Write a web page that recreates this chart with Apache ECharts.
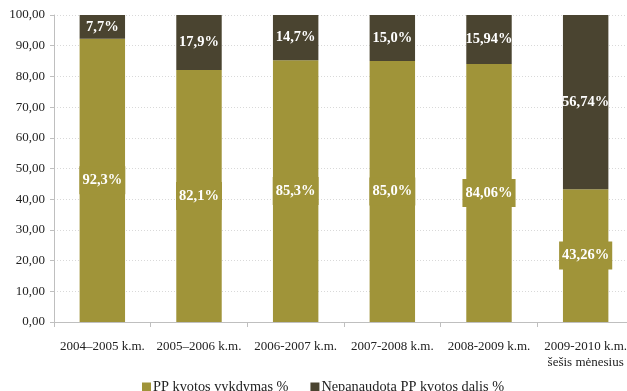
<!DOCTYPE html>
<html>
<head>
<meta charset="utf-8">
<script src="https://cdn.jsdelivr.net/npm/echarts@6/dist/echarts.min.js"></script>
<style>
  html, body { margin: 0; padding: 0; background: #fff; }
  #chart { width: 627px; height: 391px; }
</style>
</head>
<body>
<div id="chart"></div>
<script>
// School years (the last one covers only six months)
const categories = ['2004–2005 k.m.', '2005–2006 k.m.', '2006-2007 k.m.', '2007-2008 k.m.', '2008-2009 k.m.', '2009-2010 k.m.\nšešis mėnesius'];
// Quota fulfilment, %
const fulfilled = [92.3, 82.1, 85.3, 85.0, 84.06, 43.26];
// Unused quota share, %
const unused = [7.7, 17.9, 14.7, 15.0, 15.94, 56.74];
// Decimal places shown in each category's labels
const decimals = [1, 1, 1, 1, 2, 2];
const seriesNames = ['PP kvotos vykdymas %', 'Nepanaudota PP kvotos dalis %'];
const yTicks = [0, 10, 20, 30, 40, 50, 60, 70, 80, 90, 100];

const GREEN = '#A09439';
const DARK = '#4A4430';
const FONT = '"Liberation Serif", "Times New Roman", serif';

const fmt = (v, d) => v.toFixed(d).replace('.', ',');

const chart = echarts.init(document.getElementById('chart'));
chart.setOption({
  animation: false,
  textStyle: { fontFamily: FONT },
  grid: { left: 54, top: 15, width: 580, height: 307, containLabel: false, outerBoundsMode: 'none' },
  legend: {
    bottom: -8,
    left: 137,
    itemWidth: 9,
    itemHeight: 9,
    itemGap: 22,
    icon: 'rect',
    textStyle: { fontFamily: FONT, fontSize: 14.3, color: '#222', padding: [0, 0, 0, -3] },
    data: seriesNames
  },
  xAxis: {
    type: 'category',
    data: categories,
    axisLine: { lineStyle: { color: '#BFBFBF' } },
    axisTick: { show: true, length: 5, lineStyle: { color: '#BFBFBF' } },
    axisLabel: { fontFamily: FONT, fontSize: 13, color: '#222', margin: 17, lineHeight: 16, interval: 0 }
  },
  yAxis: {
    type: 'value',
    min: yTicks[0],
    max: yTicks[yTicks.length - 1],
    interval: yTicks[1] - yTicks[0],
    axisLine: { show: true, lineStyle: { color: '#BFBFBF' } },
    axisTick: { show: true, length: 4, lineStyle: { color: '#BFBFBF' } },
    splitLine: { lineStyle: { color: '#D9D9D9', type: [1, 2] } },
    axisLabel: {
      fontFamily: FONT, fontSize: 13, color: '#222', margin: 9,
      formatter: v => v.toFixed(2).replace('.', ',')
    }
  },
  series: [
    {
      name: seriesNames[0],
      type: 'bar',
      stack: 'total',
      barWidth: '47%',
      itemStyle: { color: GREEN },
      data: fulfilled,
      label: {
        show: true,
        position: 'inside',
        fontFamily: FONT, fontSize: 14.5, fontWeight: 'bold', color: '#fff',
        backgroundColor: GREEN,
        padding: [7, 3, 6, 3],
        formatter: p => fmt(p.value, decimals[p.dataIndex]) + '%'
      }
    },
    {
      name: seriesNames[1],
      type: 'bar',
      stack: 'total',
      itemStyle: { color: DARK },
      data: unused,
      label: {
        show: true,
        position: 'inside',
        fontFamily: FONT, fontSize: 14.5, fontWeight: 'bold', color: '#fff',
        formatter: p => fmt(p.value, decimals[p.dataIndex]) + '%'
      }
    }
  ]
});
</script>
</body>
</html>
